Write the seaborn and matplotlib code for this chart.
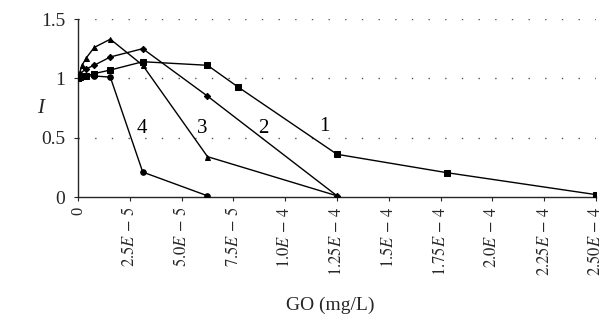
import numpy as np
import pandas as pd
import seaborn as sns
import matplotlib
matplotlib.use("Agg")
import matplotlib.pyplot as plt

# Data (GO concentration in mg/L, relative intensity I)
x1 = [0, 9.8e-7, 3.9e-6, 7.8e-6, 1.56e-5, 3.125e-5, 6.25e-5, 7.7e-5, 1.25e-4, 1.78e-4, 2.5e-4]
y1 = [1.00, 1.01, 1.02, 1.04, 1.07, 1.14, 1.11, 0.93, 0.36, 0.205, 0.02]
x2 = [0, 9.8e-7, 3.9e-6, 7.8e-6, 1.56e-5, 3.125e-5, 6.25e-5, 1.25e-4]
y2 = [1.00, 1.04, 1.08, 1.11, 1.18, 1.25, 0.85, 0.01]
x3 = [0, 1.95e-6, 3.9e-6, 7.8e-6, 1.56e-5, 3.125e-5, 6.25e-5, 1.25e-4]
y3 = [1.00, 1.11, 1.17, 1.26, 1.33, 1.11, 0.34, 0.01]
x4 = [0, 9.8e-7, 3.9e-6, 7.8e-6, 1.56e-5, 3.125e-5, 6.25e-5]
y4 = [1.00, 1.01, 1.02, 1.02, 1.01, 0.21, 0.01]
series_names = ["1", "2", "3", "4"]
xticks = [0, 2.5e-5, 5.0e-5, 7.5e-5, 1.0e-4, 1.25e-4, 1.5e-4, 1.75e-4, 2.0e-4, 2.25e-4, 2.5e-4]
xtick_labels = ["0", r"$2.5E\,-\,5$", r"$5.0E\,-\,5$", r"$7.5E\,-\,5$", r"$1.0E\,-\,4$",
                r"$1.25E\,-\,4$", r"$1.5E\,-\,4$", r"$1.75E\,-\,4$", r"$2.0E\,-\,4$",
                r"$2.25E\,-\,4$", r"$2.50E\,-\,4$"]
yticks = [0, 0.5, 1, 1.5]
ytick_labels = ["0", "0.5", "1", "1.5"]
label_pos = {"1": (1.19e-4, 0.59), "2": (8.94e-5, 0.58), "3": (5.97e-5, 0.58), "4": (3.09e-5, 0.58)}

frames = []
for name, xs, ys in zip(series_names, [x1, x2, x3, x4], [y1, y2, y3, y4]):
    frames.append(pd.DataFrame({"GO": xs, "I": ys, "series": name}))
df = pd.concat(frames, ignore_index=True)

sns.set_style("ticks")
plt.rcParams["font.family"] = ["Liberation Serif", "DejaVu Serif"]
plt.rcParams["mathtext.fontset"] = "stix"

fig = plt.figure(figsize=(6.0, 3.26), dpi=100)
ax = fig.add_axes([0.13, 0.3957, 0.8633, 0.546])

markers = {"1": "s", "2": "D", "3": "^", "4": "o"}
sizes = {"1": 5, "2": 3.2, "3": 3.6, "4": 4}
for name in series_names:
    sub = df[df["series"] == name]
    sns.lineplot(data=sub, x="GO", y="I", ax=ax, color="black", lw=1.0,
                 marker=markers[name], markersize=sizes[name],
                 markeredgecolor="black", markerfacecolor="black", sort=False,
                 legend=False, zorder=3)

for yv in [0.5, 1.0, 1.5]:
    ax.axhline(yv, color="#555555", lw=1.0, ls=(0, (1, 11)), zorder=1)

for name, (tx, ty) in label_pos.items():
    ax.text(tx, ty, name, fontsize=15, ha="center", va="center", color="black")

ax.set_xlim(0, 2.5e-4)
ax.set_ylim(0, 1.5)
ax.set_xticks(xticks)
ax.set_xticklabels(xtick_labels, rotation=90, fontsize=12)
ax.set_yticks(yticks)
ax.set_yticklabels(ytick_labels, fontsize=14)
ax.tick_params(axis="x", direction="out", length=3, width=0.8, pad=4)
ax.tick_params(axis="y", direction="out", length=3, width=0.8, pad=6)
ax.spines["top"].set_visible(False)
ax.spines["right"].set_visible(False)
ax.spines["left"].set_linewidth(1.0)
ax.spines["bottom"].set_linewidth(1.0)
ax.set_xlabel("GO (mg/L)", fontsize=14)
ax.xaxis.set_label_coords(0.487, -0.56)
ax.set_ylabel("I", fontsize=15, style="italic", rotation=0, va="center")
ax.yaxis.set_label_coords(-0.072, 0.5)

fig.savefig("out.png", dpi=100)
